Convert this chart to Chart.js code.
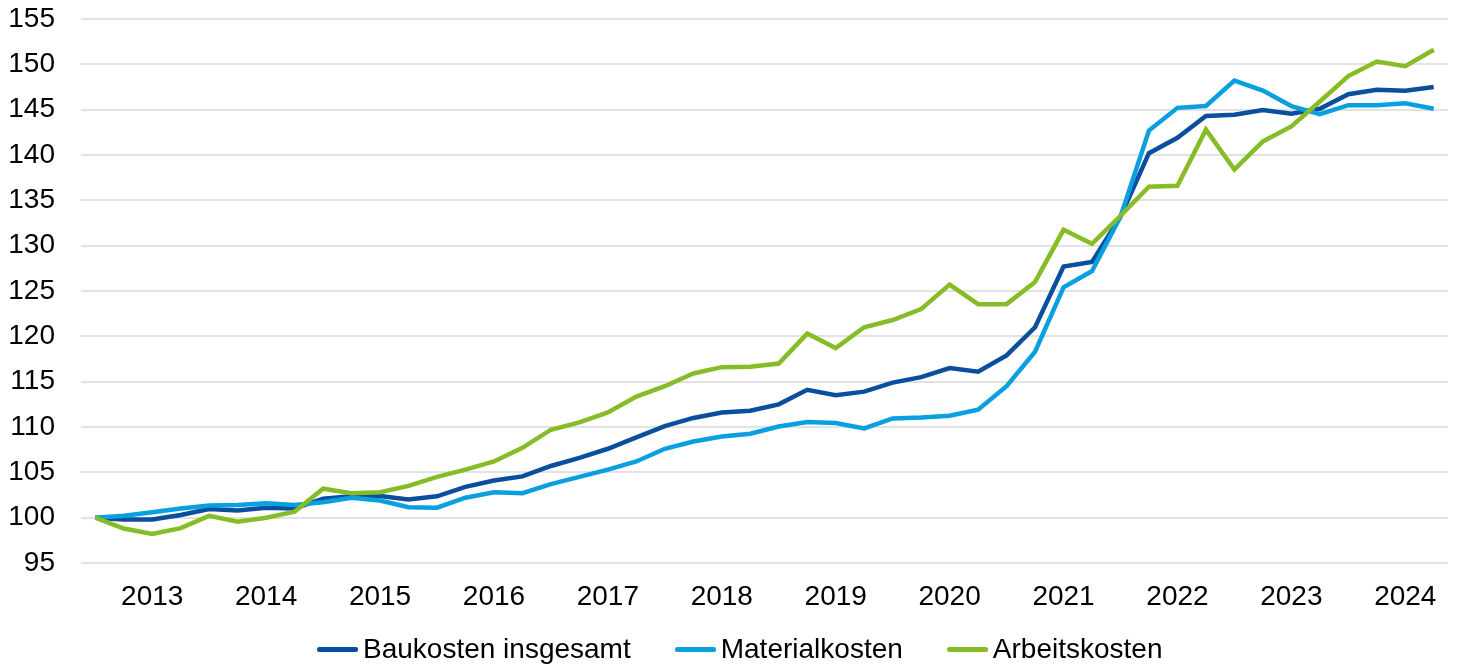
<!DOCTYPE html>
<html>
<head>
<meta charset="utf-8">
<script src="https://cdn.jsdelivr.net/npm/chart.js@4.4.1/dist/chart.umd.min.js"></script>
<style>
  html, body { margin: 0; padding: 0; background: #ffffff; }
  #wrap { width: 1457px; height: 665px; position: relative; }
  #legend {
    position: absolute; left: 317px; top: 631px; height: 36px;
    display: flex; align-items: center; gap: 44px;
    font-family: 'Liberation Sans', Arial, sans-serif; font-size: 28px; color: #000;
  }
  #legend .item { display: flex; align-items: center; white-space: nowrap; }
  #legend .swatch { width: 41px; height: 5px; border-radius: 2px; margin-right: 5px; }
</style>
</head>
<body>
<div id="wrap">
  <canvas id="chartKosten"></canvas>
  <div id="legend"></div>
</div>
<script>
// Quartalswerte, erster Wert = 100
const yearTicks = [
  '', '', '2013', '', '', '', '2014', '', '', '', '2015', '',
  '', '', '2016', '', '', '', '2017', '', '', '', '2018', '',
  '', '', '2019', '', '', '', '2020', '', '', '', '2021', '',
  '', '', '2022', '', '', '', '2023', '', '', '', '2024', ''
];

const baukosten = [
  100, 99.8, 99.8, 100.3, 100.95, 100.8, 101.1, 101.0, 102.1, 102.35, 102.4, 102.0,
  102.35, 103.4, 104.1, 104.55, 105.7, 106.6, 107.6, 108.85, 110.1, 111.0, 111.6, 111.8,
  112.5, 114.1, 113.5, 113.9, 114.9, 115.5, 116.5, 116.1, 117.9, 121.0, 127.7, 128.2,
  133.2, 140.2, 141.9, 144.3, 144.45, 144.95, 144.55, 145.1, 146.7, 147.2, 147.1, 147.5
];

const materialkosten = [
  100, 100.2, 100.6, 101.0, 101.35, 101.4, 101.6, 101.4, 101.7, 102.2, 101.9, 101.15,
  101.1, 102.2, 102.8, 102.7, 103.7, 104.5, 105.3, 106.2, 107.6, 108.4, 108.95, 109.25,
  110.05, 110.55, 110.45, 109.85, 110.95, 111.05, 111.25, 111.9, 114.5, 118.3, 125.4, 127.2,
  133.2, 142.7, 145.2, 145.4, 148.2, 147.1, 145.4, 144.5, 145.5, 145.5, 145.7, 145.1
];

const arbeitskosten = [
  100, 98.8, 98.2, 98.85, 100.2, 99.55, 100.0, 100.65, 103.2, 102.7, 102.8, 103.5,
  104.5, 105.3, 106.2, 107.7, 109.7, 110.5, 111.6, 113.35, 114.5, 115.9, 116.6, 116.65,
  117.0, 120.3, 118.7, 121.0, 121.8, 123.0, 125.7, 123.55, 123.55, 126.0, 131.75, 130.2,
  133.3, 136.5, 136.6, 142.8, 138.4, 141.5, 143.15, 145.9, 148.7, 150.3, 149.8, 151.6
];

const seriesNames = ['Baukosten insgesamt', 'Materialkosten', 'Arbeitskosten'];
const colors = ['#0a4f9e', '#0aa0e0', '#86bc25'];

const FONT = 'Liberation Sans';

function makeDataset(i, values, order) {
  return {
    label: seriesNames[i],
    data: values,
    borderColor: colors[i],
    backgroundColor: colors[i],
    borderWidth: 4.5,
    pointRadius: 0,
    tension: 0,
    fill: false,
    order: order   // green drawn on top, like the original
  };
}

const ctx = document.getElementById('chartKosten').getContext('2d');

const chart = new Chart(ctx, {
  type: 'line',
  data: {
    labels: yearTicks,
    datasets: [
      makeDataset(0, baukosten, 2),
      makeDataset(1, materialkosten, 1),
      makeDataset(2, arbeitskosten, 0)
    ]
  },
  options: {
    responsive: true,
    maintainAspectRatio: false,
    animation: false,
    layout: { padding: { left: 0, right: 9, top: 19, bottom: 0 } },
    plugins: {
      tooltip: { enabled: false },
      legend: { display: false }
    },
    scales: {
      x: {
        offset: true,
        grid: { display: false, drawTicks: false },
        border: { display: false },
        ticks: {
          color: '#000000',
          font: { family: FONT, size: 28 },
          autoSkip: false,
          maxRotation: 0,
          padding: 17
        },
        afterFit: (s) => {
          s.height = 102;
          s.paddingLeft = 0;
          s.paddingRight = 0;
        }
      },
      y: {
        min: 95,
        max: 155,
        grid: { color: '#e2e2e2', lineWidth: 2, drawTicks: false },
        border: { display: false },
        ticks: {
          stepSize: 5,
          color: '#000000',
          font: { family: FONT, size: 28 },
          padding: 26
        },
        afterFit: (s) => {
          s.width = 81;
          s.paddingTop = 0;
          s.paddingBottom = 0;
        }
      }
    }
  }
});

// legend as plain HTML so the spacing matches the original
const legendEl = document.getElementById('legend');
chart.data.datasets.forEach(ds => {
  const item = document.createElement('div');
  item.className = 'item';
  const sw = document.createElement('span');
  sw.className = 'swatch';
  sw.style.background = ds.borderColor;
  item.appendChild(sw);
  item.appendChild(document.createTextNode(ds.label));
  legendEl.appendChild(item);
});
</script>
</body>
</html>
